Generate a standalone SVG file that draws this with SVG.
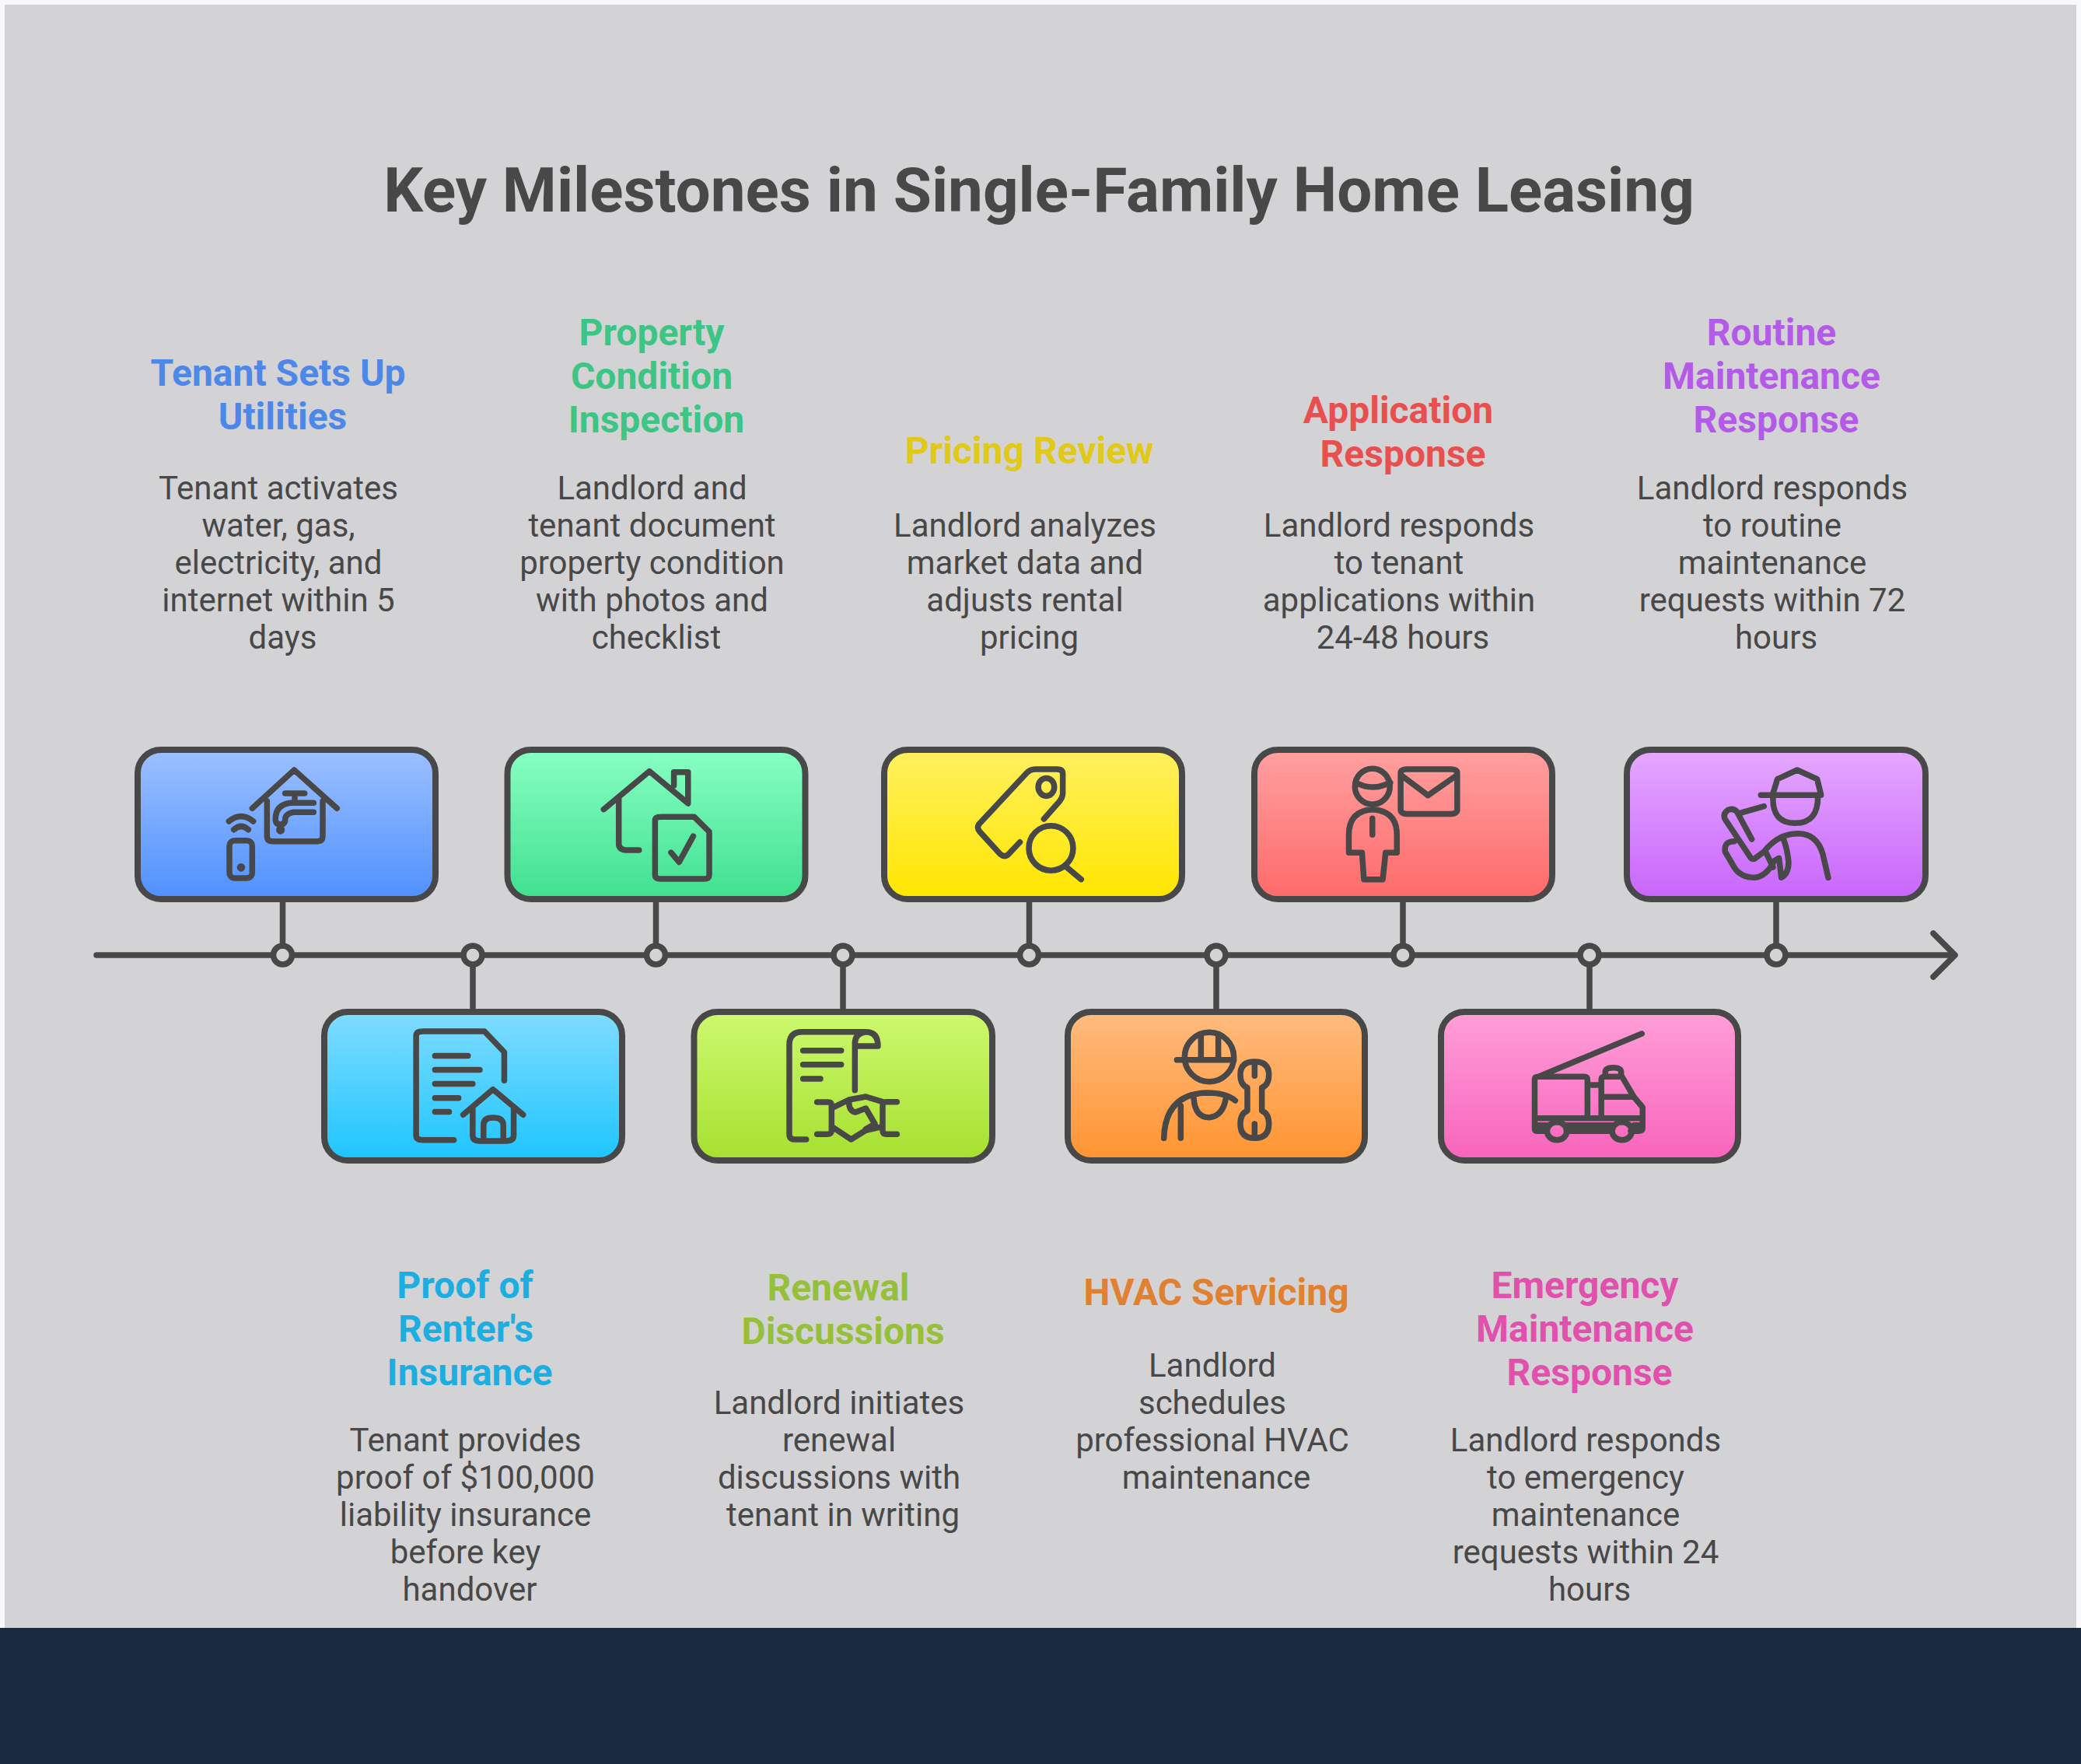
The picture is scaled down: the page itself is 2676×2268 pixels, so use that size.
<svg xmlns="http://www.w3.org/2000/svg" width="2676" height="2268" viewBox="0 0 2676 2268">
<defs>
<style>
text{font-family:Roboto,"Liberation Sans",sans-serif;text-anchor:middle}
.t{font-size:80px;font-weight:700;fill:#484848}
.h{font-size:48px;font-weight:700}
.b{font-size:42px;fill:#484848}
.box{stroke:#484848;stroke-width:8}
.ic,.ic *{fill:none;stroke:#484848;stroke-width:7.5;stroke-linecap:round;stroke-linejoin:round;vector-effect:non-scaling-stroke}
.ic .f{fill:#484848;stroke:none}
.c{stroke:#484848;stroke-width:7.5;fill:none;stroke-linecap:round;stroke-linejoin:round}
.dot{fill:#d3d3d5;stroke:#484848;stroke-width:7.5}
</style>
<linearGradient id="g1" x1="0" y1="0" x2="0" y2="1"><stop offset="0" stop-color="#9cc1ff"/><stop offset="1" stop-color="#4f90ff"/></linearGradient>
<linearGradient id="g2" x1="0" y1="0" x2="0" y2="1"><stop offset="0" stop-color="#80dcff"/><stop offset="1" stop-color="#1ec5ff"/></linearGradient>
<linearGradient id="g3" x1="0" y1="0" x2="0" y2="1"><stop offset="0" stop-color="#88ffc3"/><stop offset="1" stop-color="#40e090"/></linearGradient>
<linearGradient id="g4" x1="0" y1="0" x2="0" y2="1"><stop offset="0" stop-color="#cdf96e"/><stop offset="1" stop-color="#a6e030"/></linearGradient>
<linearGradient id="g5" x1="0" y1="0" x2="0" y2="1"><stop offset="0" stop-color="#fff060"/><stop offset="1" stop-color="#ffe600"/></linearGradient>
<linearGradient id="g6" x1="0" y1="0" x2="0" y2="1"><stop offset="0" stop-color="#ffbc80"/><stop offset="1" stop-color="#ff9430"/></linearGradient>
<linearGradient id="g7" x1="0" y1="0" x2="0" y2="1"><stop offset="0" stop-color="#ffa0a0"/><stop offset="1" stop-color="#ff6a6a"/></linearGradient>
<linearGradient id="g8" x1="0" y1="0" x2="0" y2="1"><stop offset="0" stop-color="#ff9fd8"/><stop offset="1" stop-color="#f864bc"/></linearGradient>
<linearGradient id="g9" x1="0" y1="0" x2="0" y2="1"><stop offset="0" stop-color="#e6a8ff"/><stop offset="1" stop-color="#c866fc"/></linearGradient>
</defs>
<rect width="2676" height="2268" fill="#f8f9fb"/>
<rect x="6" y="6" width="2664" height="2090" fill="#d3d3d5"/>
<rect y="2093" width="2676" height="175" fill="#1a2b40"/>
<text class="t" x="1336" y="272">Key Milestones in Single-Family Home Leasing</text>

<g id="connectors">
<path class="c" d="M124 1228H2514M2486 1200L2514 1228L2486 1256"/>
<path class="c" d="M363.5 1160V1228M843.5 1160V1228M1323.5 1160V1228M1804 1160V1228M2284 1160V1228M608 1228V1297M1084 1228V1297M1564 1228V1297M2044 1228V1297"/>
<circle class="dot" cx="363.5" cy="1228" r="12"/><circle class="dot" cx="608" cy="1228" r="12"/><circle class="dot" cx="843.5" cy="1228" r="12"/><circle class="dot" cx="1084" cy="1228" r="12"/><circle class="dot" cx="1323.5" cy="1228" r="12"/><circle class="dot" cx="1564" cy="1228" r="12"/><circle class="dot" cx="1804" cy="1228" r="12"/><circle class="dot" cx="2044" cy="1228" r="12"/><circle class="dot" cx="2284" cy="1228" r="12"/>
</g>

<g id="node-utilities">
<rect class="box" x="177" y="964" width="383" height="192" rx="30" fill="url(#g1)"/>
<g class="ic" transform="translate(270,975) scale(.3333)">
<path d="M163 193L325 45L490 193M220 165V300Q220 320 240 320H415Q435 320 435 300V165M290 135H365M327 135V170M400 172H310Q250 180 253 240Q255 255 272 255Q288 255 290 240Q288 215 320 208H400M73 243Q120 205 167 243M92 275Q120 250 148 275"/>
<rect x="75" y="317" width="88" height="145" rx="20"/><circle class="f" cx="272" cy="276" r="17"/><circle class="f" cx="120" cy="421" r="16"/>
</g>
<text class="h" fill="#4d88e8"><tspan x="357.5" y="496">Tenant Sets Up</tspan><tspan x="363.5" y="552">Utilities</tspan></text>
<text class="b"><tspan x="358" y="642">Tenant activates</tspan><tspan x="358" y="690">water, gas,</tspan><tspan x="358" y="738">electricity, and</tspan><tspan x="358" y="786">internet within 5</tspan><tspan x="363.5" y="834">days</tspan></text>
</g>

<g id="node-insurance">
<rect class="box" x="417" y="1301" width="383" height="191" rx="30" fill="url(#g2)"/>
<g class="ic" transform="translate(120,920) scale(.606,.383)">
<path d="M765 1425H700Q685 1425 685 1410V1075Q685 1060 700 1060H830L872 1130V1225M725 1142H795M725 1189H820M725 1236H805M725 1284H775M725 1330H755M785 1340L848 1255L912 1340M805 1320V1410Q805 1428 820 1428H875Q892 1428 892 1410V1320M828 1425V1375Q828 1350 848 1350Q870 1350 870 1375V1425"/>
</g>
<text class="h" fill="#1caee0"><tspan x="598" y="1669">Proof of</tspan><tspan x="599" y="1725">Renter's</tspan><tspan x="604" y="1781">Insurance</tspan></text>
<text class="b"><tspan x="598.5" y="1866">Tenant provides</tspan><tspan x="598.5" y="1914">proof of $100,000</tspan><tspan x="598.5" y="1962">liability insurance</tspan><tspan x="598.5" y="2010">before key</tspan><tspan x="604" y="2058">handover</tspan></text>
</g>

<g id="node-inspection">
<rect class="box" x="652.5" y="964" width="383" height="192" rx="30" fill="url(#g3)"/>
<g class="ic" transform="translate(120,920) scale(.606,.383)">
<path d="M1083 315L1180 187L1262 295V190H1232V235M1115 275V430Q1115 452 1135 452H1158M1275 340H1205Q1192 340 1192 352V535Q1192 548 1205 548H1295Q1307 548 1307 535V390ZM1226 460L1243 492L1273 405"/>
</g>
<text class="h" fill="#3cc584"><tspan x="838" y="444">Property</tspan><tspan x="838" y="500">Condition</tspan><tspan x="844" y="556">Inspection</tspan></text>
<text class="b"><tspan x="838.5" y="642">Landlord and</tspan><tspan x="838.5" y="690">tenant document</tspan><tspan x="838.5" y="738">property condition</tspan><tspan x="838.5" y="786">with photos and</tspan><tspan x="844" y="834">checklist</tspan></text>
</g>

<g id="node-renewal">
<rect class="box" x="892.5" y="1301" width="383.5" height="191" rx="30" fill="url(#g4)"/>
<g class="ic" transform="translate(980,1310) scale(.3333)">
<path d="M170 465H125Q105 465 105 445V100Q105 50 155 50H400Q447 50 447 105H358M358 275V95Q358 55 400 50M158 122H305M158 176H305M158 231H225M212 321H255Q268 321 268 335V430Q268 445 250 445H212M520 320H478Q465 320 465 335V430Q465 445 480 445H520M268 345L335 312L400 300L465 320M335 320Q335 355 360 360L400 345L435 405L400 425M275 420L343 465L400 430L465 415"/>
</g>
<text class="h" fill="#96c03a"><tspan x="1078" y="1672">Renewal</tspan><tspan x="1084" y="1728">Discussions</tspan></text>
<text class="b"><tspan x="1079" y="1818">Landlord initiates</tspan><tspan x="1079" y="1866">renewal</tspan><tspan x="1079" y="1914">discussions with</tspan><tspan x="1084" y="1962">tenant in writing</tspan></text>
</g>

<g id="node-pricing">
<rect class="box" x="1137" y="964" width="383" height="192" rx="30" fill="url(#g5)"/>
<g class="ic" transform="translate(1080,920) scale(.606,.383)">
<path d="M433 347L465 290Q473 275 473 260V195Q473 180 460 180H415Q403 180 395 195L295 365Q290 378 297 390L340 465Q350 478 358 465L382 425M482 510L512 550"/>
<ellipse cx="438" cy="240" rx="17" ry="30"/><ellipse cx="448" cy="445" rx="47" ry="75"/>
</g>
<text class="h" fill="#e0c918"><tspan x="1323.5" y="596">Pricing Review</tspan></text>
<text class="b"><tspan x="1318" y="690">Landlord analyzes</tspan><tspan x="1318" y="738">market data and</tspan><tspan x="1318" y="786">adjusts rental</tspan><tspan x="1323.5" y="834">pricing</tspan></text>
</g>

<g id="node-hvac">
<rect class="box" x="1373" y="1301" width="382" height="191" rx="30" fill="url(#g6)"/>
<g class="ic" transform="translate(1480,1310) scale(.3333)">
<circle cx="225" cy="147" r="95"/>
<path d="M100 158H320M193 60V150M260 60V150M50 460Q55 290 215 285Q290 285 325 315M115 460V335M165 305Q170 380 225 380Q280 375 290 300M372 265V355Q345 365 345 405Q345 460 400 460Q455 460 455 405Q455 365 428 355V265Q455 255 455 215Q455 165 400 165Q345 165 345 215Q345 255 372 265ZM400 175V220M400 405V450"/>
</g>
<text class="h" fill="#e08030"><tspan x="1564" y="1678">HVAC Servicing</tspan></text>
<text class="b"><tspan x="1559" y="1770">Landlord</tspan><tspan x="1559" y="1818">schedules</tspan><tspan x="1559" y="1866">professional HVAC</tspan><tspan x="1564" y="1914">maintenance</tspan></text>
</g>

<g id="node-application">
<rect class="box" x="1613" y="964" width="383" height="192" rx="30" fill="url(#g7)"/>
<g class="ic" transform="translate(1080,920) scale(.606,.383)">
<ellipse cx="1130" cy="238" rx="37" ry="60"/>
<path d="M1095 225Q1130 255 1168 225M1130 315Q1080 320 1080 400V460H1108L1112 550H1152L1158 460H1182V400Q1182 320 1130 315ZM1130 345V400M1195 205L1248 268L1305 205"/>
<rect x="1190" y="180" width="120" height="150" rx="12"/>
</g>
<text class="h" fill="#e84f4f"><tspan x="1798" y="544">Application</tspan><tspan x="1804" y="600">Response</tspan></text>
<text class="b"><tspan x="1799" y="690">Landlord responds</tspan><tspan x="1799" y="738">to tenant</tspan><tspan x="1799" y="786">applications within</tspan><tspan x="1804" y="834">24-48 hours</tspan></text>
</g>

<g id="node-emergency">
<rect class="box" x="1853" y="1301" width="382" height="191" rx="30" fill="url(#g8)"/>
<g class="ic" transform="translate(1800,920) scale(.5102,.383)">
<path d="M350 1212L610 1068M368 1395H345Q340 1395 340 1385V1220Q340 1212 350 1212H465Q473 1212 473 1222V1350M340 1352H612M473 1240H508M508 1350V1220Q508 1212 518 1212H560L590 1280L612 1315V1385Q612 1395 600 1395H582M510 1280H590M518 1208V1198Q518 1182 538 1182Q558 1182 558 1198V1208M420 1375H535M420 1395H535M345 1375H370M590 1375H612"/>
<ellipse cx="396" cy="1395" rx="25" ry="30"/><ellipse cx="560" cy="1395" rx="25" ry="30"/>
</g>
<text class="h" fill="#e050ac"><tspan x="2038" y="1669">Emergency</tspan><tspan x="2038" y="1725">Maintenance</tspan><tspan x="2044" y="1781">Response</tspan></text>
<text class="b"><tspan x="2039" y="1866">Landlord responds</tspan><tspan x="2039" y="1914">to emergency</tspan><tspan x="2039" y="1962">maintenance</tspan><tspan x="2039" y="2010">requests within 24</tspan><tspan x="2044" y="2058">hours</tspan></text>
</g>

<g id="node-routine">
<rect class="box" x="2092" y="964" width="384" height="192" rx="30" fill="url(#g9)"/>
<g class="ic" transform="translate(2200,975) scale(.3333)">
<path d="M240 135L257 80L333 45L410 80L425 140M193 142H425M240 145Q235 250 325 250Q415 250 413 145M205 185L110 212M158 312L100 205Q85 190 65 200Q45 215 55 235L155 385Q162 392 172 385L205 360Q260 290 335 290Q410 290 432 370L453 460M90 320Q50 320 55 360L90 420Q115 460 170 460Q215 455 245 395L263 385L272 460Q300 445 300 400Q295 350 280 310M212 362L240 420"/>
</g>
<text class="h" fill="#b45ae8"><tspan x="2278" y="444">Routine</tspan><tspan x="2278" y="500">Maintenance</tspan><tspan x="2284" y="556">Response</tspan></text>
<text class="b"><tspan x="2279" y="642">Landlord responds</tspan><tspan x="2279" y="690">to routine</tspan><tspan x="2279" y="738">maintenance</tspan><tspan x="2279" y="786">requests within 72</tspan><tspan x="2284" y="834">hours</tspan></text>
</g>
</svg>
